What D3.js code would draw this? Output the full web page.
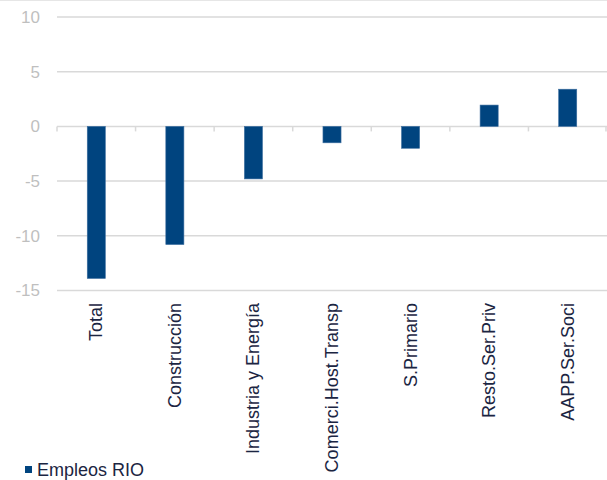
<!DOCTYPE html>
<html>
<head>
<meta charset="utf-8">
<script src="https://cdn.jsdelivr.net/npm/d3@7"></script>
<style>
  html, body { margin: 0; padding: 0; background: #fff; }
  svg { display: block; font-family: "Liberation Sans", Arial, sans-serif; }
</style>
</head>
<body>
<svg id="chart" width="607" height="480"></svg>
<script>
// Sector employment change
const categories = ["Total", "Construcción", "Industria y Energía", "Comerci.Host.Transp",
                    "S.Primario", "Resto.Ser.Priv", "AAPP.Ser.Soci"];
const empleosRIO = [-13.9, -10.8, -4.8, -1.5, -2.0, 1.95, 3.4];
const yTicks = [10, 5, 0, -5, -10, -15];
const seriesName = "Empleos RIO";

const svg = d3.select("#chart");
const W = 607, H = 480;
const plot = { left: 57, right: 607, top: 17, bottom: 290.5 };
const barColor = "#00447f";
const gridColor = "#d9d9d9";
const textDark = "#1b2542";

const x = d3.scaleBand().domain(categories).range([plot.left, plot.right]).padding(0);
const y = d3.scaleLinear().domain([-15, 10]).range([plot.bottom, plot.top]);

// frame line along the top edge
svg.append("line")
  .attr("x1", 0).attr("x2", W).attr("y1", 0.5).attr("y2", 0.5)
  .attr("stroke", "#e6e6e6").attr("stroke-width", 1);

// horizontal gridlines
svg.append("g").selectAll("line").data(yTicks).join("line")
  .attr("x1", plot.left).attr("x2", plot.right)
  .attr("y1", d => y(d)).attr("y2", d => y(d))
  .attr("stroke", gridColor).attr("stroke-width", 1.5);

// y tick labels
svg.append("g").selectAll("text").data(yTicks).join("text")
  .attr("x", 40).attr("y", d => y(d))
  .attr("dy", "0.35em")
  .attr("text-anchor", "end")
  .attr("fill", "#bfbfbf")
  .attr("font-size", 17)
  .text(d => d);

// category tick marks on the zero line
const boundaries = categories.map(c => x(c)).concat([plot.right - 1]);
svg.append("g").selectAll("line").data(boundaries).join("line")
  .attr("x1", d => d).attr("x2", d => d)
  .attr("y1", y(0)).attr("y2", y(0) + 5)
  .attr("stroke", gridColor).attr("stroke-width", 1.5);

// bars
const barW = x.bandwidth() * 0.23;
svg.append("g").selectAll("rect").data(categories).join("rect")
  .attr("x", (d) => x(d) + x.bandwidth() / 2 - barW / 2)
  .attr("width", barW)
  .attr("y", (d, i) => y(Math.max(0, empleosRIO[i])))
  .attr("height", (d, i) => Math.abs(y(empleosRIO[i]) - y(0)))
  .attr("fill", barColor)
  .attr("stroke", "#3d6e9f").attr("stroke-width", 0.6);

// rotated category labels
svg.append("g").selectAll("text").data(categories).join("text")
  .attr("transform", d => `translate(${x(d) + x.bandwidth() / 2 + 6},303) rotate(-90)`)
  .attr("text-anchor", "end")
  .attr("fill", textDark)
  .attr("font-size", 18)
  .text(d => d);

// legend
const lg = svg.append("g").attr("transform", "translate(25,466)");
lg.append("rect").attr("width", 7).attr("height", 7).attr("fill", barColor);
lg.append("text").attr("x", 12).attr("y", 3.5).attr("dy", "0.35em")
  .attr("fill", textDark).attr("font-size", 18).text(seriesName);
</script>
</body>
</html>
